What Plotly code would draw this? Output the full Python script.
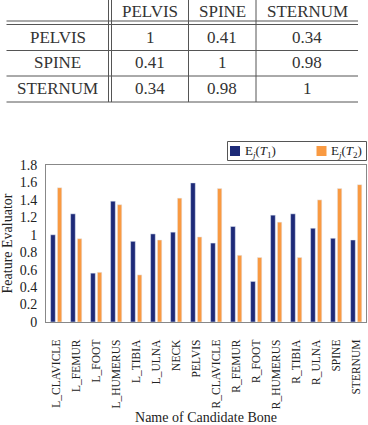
import plotly.graph_objects as go

# ---------------- data ----------------
table_cols = ["PELVIS", "SPINE", "STERNUM"]
table_rows = ["PELVIS", "SPINE", "STERNUM"]
table_vals = [["1", "0.41", "0.34"],
              ["0.41", "1", "0.98"],
              ["0.34", "0.98", "1"]]

bones = ["L_CLAVICLE", "L_FEMUR", "L_FOOT", "L_HUMERUS", "L_TIBIA", "L_ULNA",
         "NECK", "PELVIS", "R_CLAVICLE", "R_FEMUR", "R_FOOT", "R_HUMERUS",
         "R_TIBIA", "R_ULNA", "SPINE", "STERNUM"]
t1_vals = [1.00, 1.24, 0.56, 1.385, 0.925, 1.01, 1.03, 1.595, 0.905, 1.095,
           0.465, 1.225, 1.24, 1.075, 0.96, 0.94]
t2_vals = [1.54, 0.955, 0.57, 1.345, 0.54, 0.94, 1.42, 0.975, 1.53, 0.765,
           0.74, 1.145, 0.74, 1.40, 1.53, 1.575]
y_ticks = [0, 0.2, 0.4, 0.6, 0.8, 1, 1.2, 1.4, 1.6, 1.8]
legend_labels = ["E<sub><i>j</i></sub>(<i>T</i><sub>1</sub>)",
                 "E<sub><i>j</i></sub>(<i>T</i><sub>2</sub>)"]

BLUE = "#1d2a78"
ORANGE = "#f99a42"
SERIF = "Liberation Serif"

# ---------------- layout geometry (pixels) ----------------
FW, FH = 368, 425
L, R, T, B = 46, 366, 165, 322
W, H = R - L, B - T


def xp(px):
    return (px - L) / W


def yp(py):
    return (B - py) / H


fig = go.Figure()
fig.add_trace(go.Bar(x=bones, y=t1_vals, name="Ej(T1)", marker_color=BLUE,
                     width=0.235, offset=-0.27, showlegend=False))
fig.add_trace(go.Bar(x=bones, y=t2_vals, name="Ej(T2)", marker_color=ORANGE,
                     width=0.22, offset=0.07, showlegend=False))

shapes = []
annotations = []

# ---------------- table ----------------
LINE = "#555555"
tx0, tx1 = 6.5, 358
hlines = [21, 24.5, 50.5, 76, 102]
for yy in hlines:
    shapes.append(dict(type="line", xref="paper", yref="paper",
                       x0=xp(tx0), x1=xp(tx1), y0=yp(yy), y1=yp(yy),
                       line=dict(color=LINE, width=1)))
for xx in [108.5, 111.5, 188.5, 256]:
    shapes.append(dict(type="line", xref="paper", yref="paper",
                       x0=xp(xx), x1=xp(xx), y0=yp(0), y1=yp(102),
                       line=dict(color=LINE, width=1)))

col_centers = [57.5, 150, 222, 307]
row_centers = [37.5, 63, 88.5]
TFONT = dict(family=SERIF, size=17, color="#333333")
for c, name in enumerate(table_cols):
    annotations.append(dict(text=name, xref="paper", yref="paper",
                            x=xp(col_centers[c + 1]), y=yp(0.5), showarrow=False,
                            xanchor="center", yanchor="top", font=TFONT,
                            borderpad=0))
for r, name in enumerate(table_rows):
    annotations.append(dict(text=name, xref="paper", yref="paper",
                            x=xp(col_centers[0]), y=yp(row_centers[r]),
                            showarrow=False, xanchor="center", yanchor="middle",
                            font=TFONT))
    for c, v in enumerate(table_vals[r]):
        annotations.append(dict(text=v, xref="paper", yref="paper",
                                x=xp(col_centers[c + 1]), y=yp(row_centers[r]),
                                showarrow=False, xanchor="center",
                                yanchor="middle", font=TFONT))

# ---------------- legend (drawn) ----------------
shapes.append(dict(type="rect", xref="paper", yref="paper",
                   x0=xp(227.5), x1=xp(366.5), y0=yp(160.5), y1=yp(141.5),
                   line=dict(color="#555555", width=1), fillcolor="white"))
for sx, col in [(230, BLUE), (316.5, ORANGE)]:
    shapes.append(dict(type="rect", xref="paper", yref="paper",
                       x0=xp(sx), x1=xp(sx + 10), y0=yp(156), y1=yp(146),
                       line=dict(width=0), fillcolor=col))
for tx, lab in [(242.5, legend_labels[0]), (328.5, legend_labels[1])]:
    annotations.append(dict(text=lab, xref="paper", yref="paper",
                            x=xp(tx), y=yp(151), showarrow=False,
                            xanchor="left", yanchor="middle",
                            font=dict(family=SERIF, size=13, color="#222222")))

fig.update_layout(
    width=FW, height=FH,
    margin=dict(l=L, r=FW - R, t=T, b=FH - B, pad=0),
    paper_bgcolor="white", plot_bgcolor="white",
    barmode="group",
    showlegend=False,
    font=dict(family=SERIF, color="#222222"),
    shapes=shapes, annotations=annotations,
    xaxis=dict(
        type="category", tickangle=-90, showgrid=False,
        showline=True, linecolor="#888888", linewidth=1, mirror=True,
        ticks="", ticklabelstandoff=12,
        tickfont=dict(family=SERIF, size=11.5, color="#222222"),
        title=dict(text="Name of Candidate Bone", standoff=19,
                   font=dict(family=SERIF, size=14, color="#222222")),
        automargin=False,
    ),
    yaxis=dict(
        range=[0, 1.8], tickvals=y_ticks, showgrid=False, zeroline=False,
        showline=True, linecolor="#888888", linewidth=1, mirror=True,
        ticks="", ticklabelstandoff=5,
        tickfont=dict(family=SERIF, size=14, color="#222222"),
        title=dict(text="Feature Evaluator", standoff=6,
                   font=dict(family=SERIF, size=14, color="#222222")),
        automargin=False,
    ),
)

fig.write_html("out.html")
